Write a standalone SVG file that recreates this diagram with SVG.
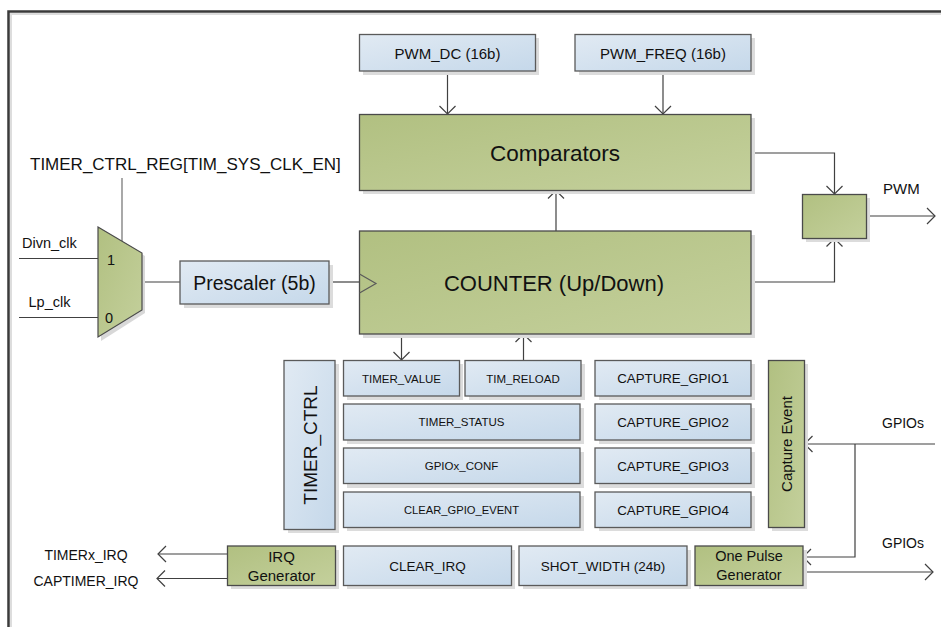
<svg xmlns="http://www.w3.org/2000/svg" width="941" height="627" viewBox="0 0 941 627">
<defs>
<linearGradient id="gBlue" x1="0" y1="0" x2="1" y2="1">
<stop offset="0" stop-color="#e1eaf3"/>
<stop offset="1" stop-color="#c5d8ea"/>
</linearGradient>
<linearGradient id="gGreen" x1="0" y1="0" x2="1" y2="1">
<stop offset="0" stop-color="#b1c081"/>
<stop offset="1" stop-color="#c4d09c"/>
</linearGradient>
<marker id="arr" viewBox="-10 -10 12 20" markerWidth="12" markerHeight="20" refX="0" refY="0" orient="auto" markerUnits="userSpaceOnUse">
<path d="M-8,-8 L0,0 L-8,8" fill="none" stroke="#404040" stroke-width="1.2"/>
</marker>
</defs>
<style>
.blue{fill:url(#gBlue);stroke:#5a5a5a;stroke-width:1.3}
.green{fill:url(#gGreen);stroke:#4a4a4a;stroke-width:1.3}
.sh{fill:#dcdcdc;stroke:none}
.t{font-family:"Liberation Sans",Arial,sans-serif;fill:#111;text-anchor:middle;dominant-baseline:central}
.l{font-family:"Liberation Sans",Arial,sans-serif;fill:#111}
.w{fill:none;stroke:#404040;stroke-width:1.2}
.wa{fill:none;stroke:#404040;stroke-width:1.2;marker-end:url(#arr)}
</style>
<rect width="941" height="627" fill="#ffffff"/>
<path d="M11,627 V14 H941" fill="none" stroke="#dddddd" stroke-width="2"/>
<path d="M8.5,627 V11.5 H941" fill="none" stroke="#3a3a3a" stroke-width="2.5"/>

<g id="connectors">
<path class="wa" d="M447.5,71 V114"/>
<path class="wa" d="M663,71 V114"/>
<path class="wa" d="M556,231 V190.5"/>
<path class="wa" d="M751,153 H834.5 V194"/>
<path class="wa" d="M751,282 H834.5 V238.5"/>
<path class="wa" d="M867,216 H935"/>
<path class="wa" d="M401.5,334 V360"/>
<path class="wa" d="M523.5,360 V334"/>
<path class="w" d="M19,258.5 H98"/>
<path class="w" d="M19,317.5 H98"/>
<path d="M122,178 V241" fill="none" stroke="#7a7a7a" stroke-width="1.3"/>
<path class="w" d="M142,282 H180"/>
<path class="w" d="M329,282 H359"/>
<path class="wa" d="M227,554 H158"/>
<path class="wa" d="M227,578.5 H157"/>
<path class="wa" d="M935,444 H804.5"/>
<path class="wa" d="M855,444 V557 H803"/>
<path class="wa" d="M803,572 H933"/>
</g>

<g id="pwm_dc"><rect class="sh" x="363" y="38" width="176" height="37"/><rect class="blue" x="359.5" y="34.5" width="176" height="36.5"/><text class="t" x="447.5" y="53" font-size="15">PWM_DC (16b)</text></g>
<g id="pwm_freq"><rect class="sh" x="579" y="38" width="176" height="37"/><rect class="blue" x="575" y="34.5" width="176" height="36.5"/><text class="t" x="663" y="53" font-size="15">PWM_FREQ (16b)</text></g>
<g id="comparators"><rect class="sh" x="363" y="118" width="392" height="76"/><rect class="green" x="359.5" y="114.5" width="391.5" height="76"/><text class="t" x="555" y="153" font-size="22.5">Comparators</text></g>
<g id="pwm_gate"><rect class="sh" x="806" y="198" width="64" height="44"/><rect class="green" x="802.5" y="194.5" width="64" height="44"/></g>
<text class="l" x="883" y="194" font-size="15">PWM</text>
<g id="counter"><rect class="sh" x="363" y="235" width="392" height="103"/><rect class="green" x="359.5" y="231" width="391.5" height="103"/><path d="M359.5,274 L376,283.5 L359.5,293" fill="none" stroke="#5a5a5a" stroke-width="1.2"/><text class="t" x="554" y="283" font-size="22">COUNTER (Up/Down)</text></g>
<g id="timer_ctrl_reg_label"><text class="l" x="30" y="170" font-size="17">TIMER_CTRL_REG[TIM_SYS_CLK_EN]</text></g>
<g id="mux"><polygon points="101,230 145,256 145,313 101,341" fill="#d8d8d8"/><polygon points="98,227 142,253 142,310 98,337" fill="url(#gGreen)" stroke="#4a4a4a" stroke-width="1.2"/><text class="t" x="111" y="260" font-size="14.5">1</text><text class="t" x="109" y="318" font-size="14.5">0</text></g>
<text class="l" x="22" y="248" font-size="14.5">Divn_clk</text>
<text class="l" x="28.5" y="307" font-size="14.5">Lp_clk</text>
<g id="prescaler"><rect class="sh" x="184" y="265" width="149" height="43"/><rect class="blue" x="180" y="261" width="149" height="43"/><text class="t" x="254.5" y="282.5" font-size="19.5">Prescaler (5b)</text></g>
<g id="timer_ctrl"><rect class="sh" x="288" y="364" width="51" height="169"/><rect class="blue" x="284" y="360.5" width="51" height="169"/><text class="t" x="310" y="445" font-size="19" transform="rotate(-90 310 445)">TIMER_CTRL</text></g>
<g id="timer_value"><rect class="sh" x="347" y="364" width="116" height="36"/><rect class="blue" x="343.5" y="360.5" width="116" height="35.5"/><text class="t" x="401.5" y="378.5" font-size="11.5">TIMER_VALUE</text></g>
<g id="tim_reload"><rect class="sh" x="469" y="364" width="116" height="36"/><rect class="blue" x="465" y="360.5" width="116" height="35.5"/><text class="t" x="523" y="378.5" font-size="11.5">TIM_RELOAD</text></g>
<g id="capture_gpio1"><rect class="sh" x="599" y="364" width="156" height="36"/><rect class="blue" x="595" y="360.5" width="156" height="35.5"/><text class="t" x="673" y="378.5" font-size="13.3">CAPTURE_GPIO1</text></g>
<g id="timer_status"><rect class="sh" x="347" y="408" width="237" height="36"/><rect class="blue" x="343.5" y="404" width="236.5" height="36"/><text class="t" x="461.5" y="422" font-size="11.5">TIMER_STATUS</text></g>
<g id="capture_gpio2"><rect class="sh" x="599" y="408" width="156" height="36"/><rect class="blue" x="595" y="404" width="156" height="36"/><text class="t" x="673" y="422" font-size="13.3">CAPTURE_GPIO2</text></g>
<g id="gpiox_conf"><rect class="sh" x="347" y="452" width="237" height="36"/><rect class="blue" x="343.5" y="448" width="236.5" height="35.5"/><text class="t" x="461.5" y="466" font-size="11.5">GPIOx_CONF</text></g>
<g id="capture_gpio3"><rect class="sh" x="599" y="452" width="156" height="36"/><rect class="blue" x="595" y="448" width="156" height="35.5"/><text class="t" x="673" y="466" font-size="13.3">CAPTURE_GPIO3</text></g>
<g id="clear_gpio_event"><rect class="sh" x="347" y="496" width="237" height="35"/><rect class="blue" x="343.5" y="492" width="236.5" height="35.5"/><text class="t" x="461.5" y="510" font-size="11.2">CLEAR_GPIO_EVENT</text></g>
<g id="capture_gpio4"><rect class="sh" x="599" y="496" width="156" height="35"/><rect class="blue" x="595" y="492" width="156" height="35.5"/><text class="t" x="673" y="510" font-size="13.3">CAPTURE_GPIO4</text></g>
<g id="capture_event"><rect class="sh" x="772" y="364" width="36" height="167"/><rect class="green" x="768.5" y="360.5" width="36" height="167"/><text class="t" x="786.5" y="444" font-size="15" transform="rotate(-90 786.5 444)">Capture Event</text></g>
<g id="irq_generator"><rect class="sh" x="231" y="550" width="108" height="39"/><rect class="green" x="227.5" y="546" width="108" height="39.5"/><text class="t" x="281.5" y="556" font-size="15">IRQ</text><text class="t" x="281.5" y="575" font-size="15">Generator</text></g>
<g id="clear_irq"><rect class="sh" x="347" y="550" width="168" height="39"/><rect class="blue" x="343.5" y="546" width="168" height="39.5"/><text class="t" x="427.5" y="566" font-size="13.5">CLEAR_IRQ</text></g>
<g id="shot_width"><rect class="sh" x="523" y="550" width="168" height="39"/><rect class="blue" x="519" y="546" width="168" height="39.5"/><text class="t" x="603" y="566" font-size="13.5">SHOT_WIDTH (24b)</text></g>
<g id="one_pulse_generator"><rect class="sh" x="699" y="550" width="108" height="39"/><rect class="green" x="695" y="546" width="108" height="39.5"/><text class="t" x="749" y="556" font-size="14.5">One Pulse</text><text class="t" x="749" y="575" font-size="14.5">Generator</text></g>
<text class="t" x="86" y="555" font-size="14">TIMERx_IRQ</text>
<text class="t" x="86" y="581" font-size="14">CAPTIMER_IRQ</text>
<text class="l" x="882" y="428" font-size="14">GPIOs</text>
<text class="l" x="882" y="548" font-size="14">GPIOs</text>
</svg>
